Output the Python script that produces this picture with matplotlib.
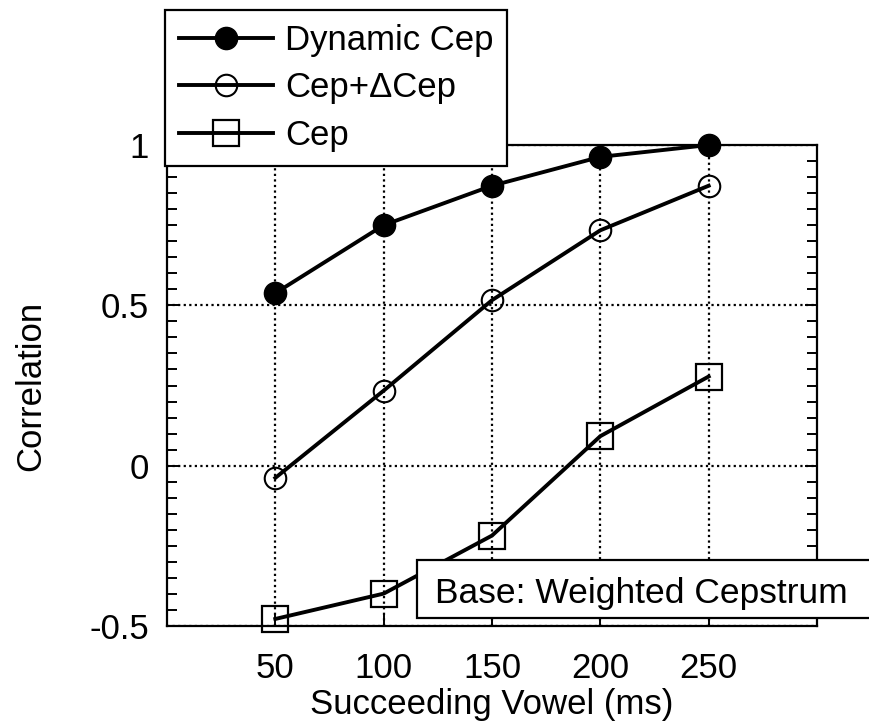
import numpy as np
import matplotlib.pyplot as plt
from matplotlib.patches import Rectangle
from matplotlib.ticker import MultipleLocator

plt.rcParams['font.family'] = ['Liberation Sans', 'DejaVu Sans']

vowel_ms = [50, 100, 150, 200, 250]
dynamic_cep = [0.538, 0.75, 0.873, 0.963, 1.0]
cep_delta = [-0.038, 0.234, 0.516, 0.734, 0.873]
cep = [-0.478, -0.399, -0.218, 0.092, 0.278]

W, H = 870, 725
fig = plt.figure(figsize=(W / 100, H / 100), dpi=100)
ax = fig.add_axes([167 / W, 1 - 626 / H, 650 / W, 481 / H])

lw = 2.8
ax.plot(vowel_ms, dynamic_cep, color='black', lw=lw, marker='o', ms=16,
        mfc='black', mec='black', label='Dynamic Cep', zorder=3, clip_on=False)
ax.plot(vowel_ms, cep_delta, color='black', lw=lw, marker='o', ms=15.5,
        mfc='none', mec='black', mew=1.5, label='Cep+\u0394Cep', zorder=3,
        clip_on=False)
ax.plot(vowel_ms, cep, color='black', lw=lw, marker='s', ms=18.5,
        mfc='none', mec='black', mew=1.6, label='Cep', zorder=3, clip_on=False)

ax.set_xlim(0, 300)
ax.set_ylim(-0.5, 1.0)
ax.set_xticks(vowel_ms)
ax.set_yticks([-0.5, 0, 0.5, 1])
ax.set_yticklabels(['-0.5', '0', '0.5', '1'])
ax.yaxis.set_minor_locator(MultipleLocator(0.05))

ax.grid(True, which='major', color='black', linestyle=(0, (1, 1.5)), lw=1.6)
ax.tick_params(which='both', direction='in', top=True, right=True,
               labelsize=25, width=1.4)
ax.tick_params(which='major', length=9)
ax.tick_params(which='minor', length=7)
ax.tick_params(axis='y', pad=13)
ax.tick_params(axis='x', pad=19)
for s in ax.spines.values():
    s.set_linewidth(1.6)

ax.set_xlabel('Succeeding Vowel (ms)', fontsize=25, labelpad=2)
ax.set_ylabel('Correlation', fontsize=25, labelpad=30)

leg = fig.legend(loc='upper left', bbox_to_anchor=(165 / W, 1 - 10 / H),
                 fontsize=25, frameon=True, fancybox=False, framealpha=1,
                 edgecolor='black', handlelength=2.7, handletextpad=0.35,
                 borderpad=0.4, labelspacing=0.42, borderaxespad=0)
leg.get_frame().set_linewidth(1.6)

# label box in the lower right, running off the edge of the figure
fig.patches.append(Rectangle((417 / W, 1 - 618 / H), 500 / W, 58 / H,
                             transform=fig.transFigure, fc='white',
                             ec='black', lw=1.6, zorder=10))
fig.text(435 / W, 1 - 603 / H, 'Base: Weighted Cepstrum', fontsize=25.5,
         va='baseline', ha='left', zorder=11)

fig.savefig('out.png', dpi=100)
